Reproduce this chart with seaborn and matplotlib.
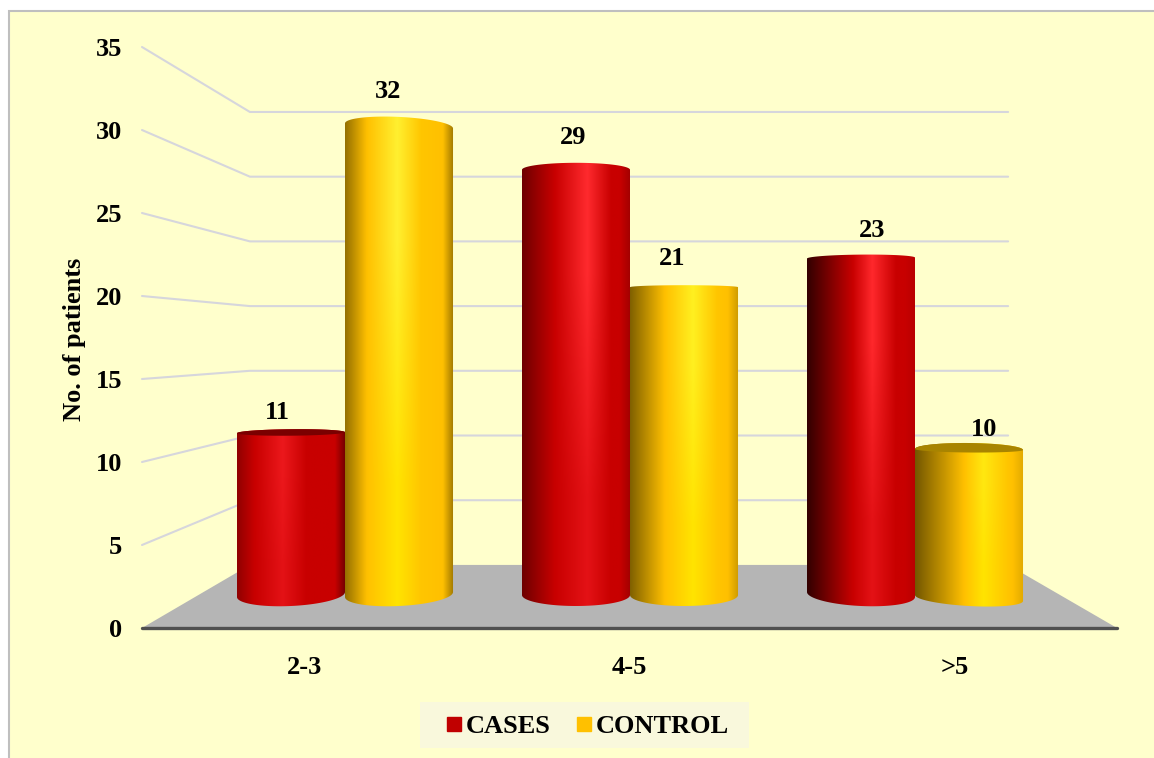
import numpy as np
import pandas as pd
import matplotlib
matplotlib.use("Agg")
import matplotlib.pyplot as plt
from matplotlib.colors import to_rgb
from matplotlib.lines import Line2D
from matplotlib.patches import Polygon, Rectangle
import seaborn as sns

# Chart data
age_groups = ["2-3", "4-5", ">5"]
cases = [11, 29, 23]
control = [32, 21, 10]
series_names = ["CASES", "CONTROL"]
y_ticks = [0, 5, 10, 15, 20, 25, 30, 35]

# Palette
PANEL = "#FFFFCC"
PANEL_EDGE = "#BFBFBF"
GRID = "#D6D6DC"
FLOOR = "#B5B5B5"
FLOOR_EDGE = "#505050"
LEGEND_BG = "#F9F8DC"
SERIES_COLORS = {"CASES": "#C00000", "CONTROL": "#FFC000"}
BODY = {"CASES": "#C80000", "CONTROL": "#FFC000"}
CAP = {"CASES": "#7A0000", "CONTROL": "#A88400"}
FOOT_HIGHLIGHT = {"CASES": "#E41216", "CONTROL": "#FFE400"}

# Cylinder shading, one per bar:
# highlight position, reach of the left shadow, left edge, right edge, highlight colour at the top
SHADING = [
    (0.42, 0.16, 0.72, 0.55, "#EC181C"), (0.60, 0.30, 0.55, 0.80, "#FF2A2E"), (0.60, 0.42, 0.25, 0.92, "#FF282C"),
    (0.48, 0.20, 0.58, 0.62, "#FFF030"), (0.58, 0.32, 0.50, 0.80, "#FFF020"), (0.63, 0.45, 0.45, 0.88, "#FFE810"),
]
# Cylinder outline in pixels: top-left, top-right and rise of the lid; foot-left, foot-right and drop of the base
# (offsets from the bar's value line, positive is upward)
OUTLINE = [
    (1, 2, 3.5, 0, 5, 11.5), (-2, -2, 7, 2, 2, 11), (-2, -1, 3.5, 5, 0, 11.5),
    (0, -5, 9, 0, 5, 11.5), (-1, -1, 2, 2, 2, 11), (0, -1, 6.5, 2, -4, 8),
]
# Value-label nudges in pixels (x, height above bar top), same order
LABEL_NUDGE = [(-14, 22), (-3, 30), (11, 26), (-11, 32), (-12, 28), (15, 20)]

W, H = 1154, 758
sns.set_theme(style="white")
plt.rcParams["font.family"] = ["Liberation Serif", "DejaVu Serif"]
plt.rcParams["font.weight"] = "bold"
plt.rcParams["font.size"] = 19

fig = plt.figure(figsize=(W / 100, H / 100), dpi=100, facecolor="white")
fig.patches.append(Rectangle((8.5 / W, -0.01), 1.1, 1 - 10.5 / H + 0.01, transform=fig.transFigure,
                             facecolor=PANEL, edgecolor=PANEL_EDGE, linewidth=1.5, zorder=-2))
fig.patches.append(Rectangle((420 / W, 1 - 748 / H), 329 / W, 46 / H, transform=fig.transFigure,
                             facecolor=LEGEND_BG, edgecolor="none", zorder=-1))


def pixel_rect(left, top, right, bottom):
    return [left / W, 1 - bottom / H, (right - left) / W, (bottom - top) / H]


# Front plane carries the real axes; walls and floor recede from it
front = fig.add_axes(pixel_rect(142, 47, 1117, 628), facecolor="none")
front.set_xlim(0, 3)
front.set_ylim(0, 35)
front.set_yticks(y_ticks)
front.set_xticks([0.5, 1.5, 2.5], age_groups)
front.tick_params(axis="y", length=0, pad=14, labelsize=19, colors="black")
front.tick_params(axis="x", length=0, pad=20.5, labelsize=19, colors="black")
front.set_ylabel("No. of patients", fontsize=19, fontweight="bold", color="black")
front.yaxis.set_label_coords((86 - 142) / 975, 0.497)
for spine in front.spines.values():
    spine.set_visible(False)
front.grid(False)

BACK_LEFT, BACK_RIGHT = 0.332, 2.665
BACK_FLOOR, DEPTH_SCALE = 3.8, 0.7796

front.add_patch(Polygon([(0, 0), (BACK_LEFT, BACK_FLOOR), (BACK_RIGHT, BACK_FLOOR), (3, 0)],
                        facecolor=FLOOR, edgecolor="none", zorder=1))
front.plot([0, 3], [0, 0], color=FLOOR_EDGE, lw=2.4, clip_on=False, zorder=2, solid_capstyle="round")
for tick in y_ticks[1:]:
    back_y = BACK_FLOOR + DEPTH_SCALE * tick
    front.plot([0, BACK_LEFT, BACK_RIGHT], [tick, back_y, back_y], color=GRID, lw=1.5,
               clip_on=False, zorder=1)

# Bars sit on a plane midway between the front edge and the back wall
bars_ax = fig.add_axes(pixel_rect(202.5, 79, 1057.5, 626.6), facecolor="none")
table = pd.DataFrame({
    "group": age_groups * 2,
    "series": [series_names[0]] * 3 + [series_names[1]] * 3,
    "value": cases + control,
})
sns.barplot(data=table, x="group", y="value", hue="series", order=age_groups, hue_order=series_names,
            palette=SERIES_COLORS, width=0.758, gap=0, legend=False, ax=bars_ax)
bars_ax.set_ylim(-2, 35)
bars_ax.set_xlim(-0.5, 2.5)
bars_ax.set_axis_off()
bars_ax.set_autoscale_on(False)

px_per_value = (597 - 79) / 35
LID_DROP = 3


def arc(x0, x1, y0, y1, amp, n=80):
    """Half ellipse from (x0, y0) to (x1, y1), bulging by amp above the chord."""
    t = np.linspace(0, np.pi, n)
    f = (1 - np.cos(t)) / 2
    return x0 + (x1 - x0) * f, y0 + (y1 - y0) * f + amp * np.sin(t)


bars = list(bars_ax.patches)
bar_series = [series_names[0]] * 3 + [series_names[1]] * 3
for bar, name, shade, shape, nudge in zip(bars, bar_series, SHADING, OUTLINE, LABEL_NUDGE):
    hl, reach, left, right, bright = shade
    top_l, top_r, rise, foot_l, foot_r, drop = [v / px_per_value for v in shape]
    x0, width, value = bar.get_x(), bar.get_width(), bar.get_height()
    x1 = x0 + width
    bar.set_visible(False)

    # Two-row gradient: horizontal cylinder shading, highlight fading toward the foot
    base = np.array(to_rgb(BODY[name]))
    stops = [0, reach, hl, hl + 0.22, 0.9, 1]
    pos = np.linspace(0, 1, 256)
    rows = []
    for glow in (FOOT_HIGHLIGHT[name], bright):
        colors = np.array([base * left, base, to_rgb(glow), base * 1.03 if name == "CONTROL" else base,
                           base, base * right]).clip(0, 1)
        rows.append(np.stack([np.interp(pos, stops, colors[:, c]) for c in range(3)], axis=-1))
    strip = np.stack(rows)

    bottom_x, bottom_y = arc(x0, x1, foot_l, foot_r, -drop)
    top_x, top_y = arc(x1, x0, value + top_r, value + top_l, rise)
    outline = np.column_stack([np.r_[bottom_x, top_x], np.r_[bottom_y, top_y]])
    body = Polygon(outline, closed=True, facecolor="none", edgecolor="none")
    bars_ax.add_patch(body)
    image = bars_ax.imshow(strip, extent=(x0, x1, bottom_y.min() - 0.1, top_y.max() + 0.1),
                           aspect="auto", origin="lower", interpolation="bilinear", zorder=3)
    image.set_clip_path(body)

    # Low cylinders show their dark lid from above
    if value <= 12:
        lid_x, lid_y = arc(x0, x1, value + top_l, value + top_r, -LID_DROP / px_per_value)
        lid = np.column_stack([np.r_[lid_x, top_x], np.r_[lid_y, top_y]])
        bars_ax.add_patch(Polygon(lid, closed=True, facecolor=CAP[name], edgecolor="none", zorder=4))

    bars_ax.annotate(f"{value:.0f}", xy=(x0 + width / 2, value), xytext=(nudge[0] * 0.72, nudge[1] * 0.72),
                     textcoords="offset points", ha="center", va="center", fontsize=19,
                     fontweight="bold", color="black", annotation_clip=False, zorder=5)

handles = [Line2D([], [], linestyle="none", marker="s", markersize=9.8, color=SERIES_COLORS[n], label=n)
           for n in series_names]
legend = fig.legend(handles=handles, loc="center", bbox_to_anchor=(587.5 / W, 1 - 726 / H), ncol=2,
                    frameon=False, fontsize=19, handlelength=0.6, handletextpad=0.17,
                    columnspacing=0.95, borderpad=0.35, borderaxespad=0)
for text in legend.get_texts():
    text.set_fontweight("bold")
    text.set_color("black")

fig.savefig("out.png", dpi=100, facecolor=fig.get_facecolor())
